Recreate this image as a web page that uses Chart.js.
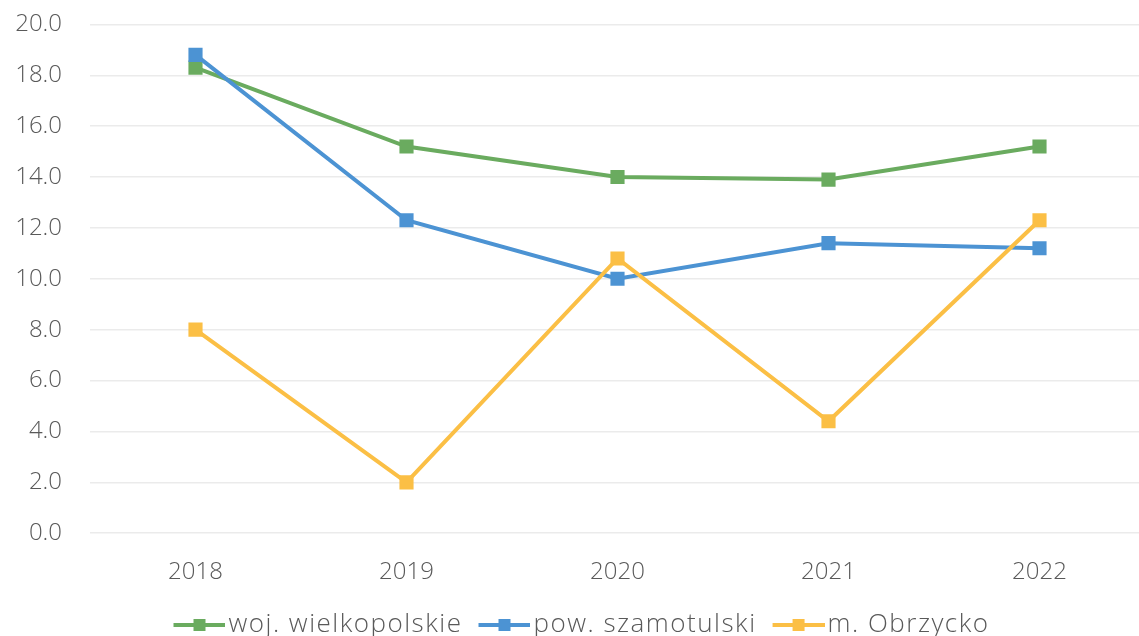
<!DOCTYPE html>
<html>
<head>
<meta charset="utf-8">
<script src="https://cdn.jsdelivr.net/npm/chart.js@4.4.0/dist/chart.umd.min.js"></script>
<style>
  html, body { margin: 0; padding: 0; background: #fff; overflow: hidden; }
  #wrap { width: 1155px; height: 666px; margin-top: -18px; }
</style>
</head>
<body>
<div id="wrap"><canvas id="lineChart" width="1155" height="666"></canvas></div>
<script>
var years = ["2018", "2019", "2020", "2021", "2022"];
var seriesNames = ["woj. wielkopolskie", "pow. szamotulski", "m. Obrzycko"];
var wojValues = [18.3, 15.2, 14.0, 13.9, 15.2];
var powValues = [18.8, 12.3, 10.0, 11.4, 11.2];
var miastoValues = [8.0, 2.0, 10.8, 4.4, 12.3];
var yTicks = [0, 2, 4, 6, 8, 10, 12, 14, 16, 18, 20];

var colors = ['#6aab5f', '#4c93d3', '#fbbf45'];
var textColor = '#595959';
var fontFamily = '"Open Sans", Lato, sans-serif';

// legend marker: line with a square, drawn right-heavy so it sits close to the text
function legendIcon(color) {
    var c = document.createElement('canvas');
    c.width = 70;
    c.height = 14;
    var g = c.getContext('2d');
    g.strokeStyle = color;
    g.lineWidth = 4;
    g.beginPath();
    g.moveTo(18, 7);
    g.lineTo(70, 7);
    g.stroke();
    g.fillStyle = color;
    g.fillRect(38, 1, 12, 12);
    return c;
}

var legendSpacing = {
    id: 'legendSpacing',
    beforeInit: function (chart) {
        var lg = chart.legend;
        if (!lg) return;
        var origFit = lg.fit, origDraw = lg.draw;
        lg.fit = function () {
            this.ctx.save();
            this.ctx.letterSpacing = '1.5px';
            origFit.call(this);
            this.ctx.restore();
        };
        lg.draw = function () {
            this.ctx.save();
            this.ctx.letterSpacing = '1.5px';
            origDraw.call(this);
            this.ctx.restore();
        };
    }
};

document.addEventListener("DOMContentLoaded", function () {
    var ctx = document.getElementById('lineChart').getContext('2d');
    var allValues = [wojValues, powValues, miastoValues];
    var datasets = allValues.map(function (vals, i) {
        return {
            label: seriesNames[i],
            data: vals,
            borderColor: colors[i],
            backgroundColor: colors[i],
            borderWidth: 4,
            pointStyle: 'rect',
            pointRadius: 10,
            pointBorderWidth: 0,
            tension: 0,
            order: 3 - i
        };
    });

    new Chart(ctx, {
        type: 'line',
        data: { labels: years, datasets: datasets },
        plugins: [legendSpacing],
        options: {
            responsive: false,
            animation: false,
            layout: { padding: { top: 0, bottom: 0, left: 0, right: 0 } },
            plugins: {
                tooltip: { enabled: false },
                legend: {
                    position: 'bottom',
                    labels: {
                        usePointStyle: true,
                        pointStyleWidth: 50,
                        padding: 8,
                        color: textColor,
                        font: { family: fontFamily, size: 26, weight: 300 },
                        generateLabels: function (chart) {
                            return seriesNames.map(function (name, i) {
                                return {
                                    text: name,
                                    pointStyle: legendIcon(colors[i]),
                                    fillStyle: colors[i],
                                    strokeStyle: colors[i],
                                    lineWidth: 0,
                                    datasetIndex: i,
                                    fontColor: textColor
                                };
                            });
                        }
                    }
                }
            },
            scales: {
                x: {
                    offset: true,
                    grid: { display: false },
                    border: { display: false },
                    ticks: {
                        color: textColor,
                        padding: 17,
                        font: { family: fontFamily, size: 24, weight: 300 }
                    }
                },
                y: {
                    min: 0,
                    max: 20,
                    afterFit: function (scale) { scale.width = 90; },
                    afterBuildTicks: function (scale) {
                        scale.ticks = yTicks.map(function (v) { return { value: v }; });
                    },
                    grid: { color: '#ebebeb', lineWidth: 1.5, drawTicks: false },
                    border: { display: false },
                    ticks: {
                        color: textColor,
                        padding: 28,
                        font: { family: fontFamily, size: 24, weight: 300 },
                        callback: function (v) { return v.toFixed(1); }
                    }
                }
            }
        }
    });
});
</script>
</body>
</html>
